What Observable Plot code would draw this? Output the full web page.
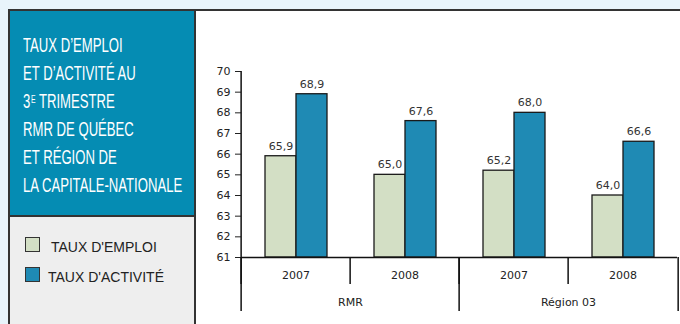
<!DOCTYPE html>
<html><head><meta charset="utf-8">
<script src="https://cdn.jsdelivr.net/npm/d3@7"></script>
<script src="https://cdn.jsdelivr.net/npm/@observablehq/plot@0.6"></script>
<style>
body{margin:0;width:680px;height:324px;background:#e8f4fb;position:relative;overflow:hidden;font-family:"Liberation Sans",Arial,sans-serif}
.abs{position:absolute}
#title{left:10px;top:11px;width:184px;height:204px;background:#058cb3;color:#fff;box-sizing:border-box;padding:20px 0 0 13px;font-family:"Liberation Sans",sans-serif;font-size:21px;line-height:28px;white-space:nowrap}
#title div{transform:scaleX(0.625);transform-origin:0 0}
#title sup{font-size:11px;vertical-align:top;position:relative;top:-2px;margin-left:1px}
#legend{left:10px;top:217px;width:184px;height:107px;background:#eeeeee}
.item{position:absolute;font-size:14px;color:#222;white-space:nowrap}
.sw{position:absolute;width:13px;height:13px;border:1px solid #333}
#chart{left:196px;top:11px;width:484px;height:313px;background:#fff}
</style></head><body>
<div class="abs" style="left:8px;top:9px;width:672px;height:2px;background:#333"></div>
<div class="abs" style="left:8px;top:9px;width:2px;height:315px;background:#333"></div>
<div class="abs" id="title"></div>
<div class="abs" style="left:10px;top:215px;width:184px;height:2px;background:#333"></div>
<div class="abs" id="legend"></div>
<div class="abs" style="left:194px;top:11px;width:2px;height:313px;background:#333"></div>
<div class="abs" id="chart"></div>
<script>
// ---- data ----
const titleLines = ["TAUX D’EMPLOI", "ET D’ACTIVITÉ AU", "3|E| TRIMESTRE", "RMR DE QUÉBEC", "ET RÉGION DE", "LA CAPITALE-NATIONALE"];
const groups = ["RMR", "RMR", "Région 03", "Région 03"];
const years = ["2007", "2008", "2007", "2008"];
const series = ["TAUX D'EMPLOI", "TAUX D'ACTIVITÉ"];
const tauxEmploi = [65.9, 65.0, 65.2, 64.0];
const tauxActivite = [68.9, 67.6, 68.0, 66.6];
const yTicks = [61, 62, 63, 64, 65, 66, 67, 68, 69, 70];
const colors = ["#d3dfc5", "#1f8ab4"];

// ---- title ----
const title = document.getElementById("title");
titleLines.forEach(l => {
  const d = document.createElement("div");
  const parts = l.split("|");
  if (parts.length === 3) { d.innerHTML = parts[0] + "<sup>" + parts[1] + "</sup>" + parts[2]; }
  else d.textContent = l;
  title.appendChild(d);
});

// ---- legend ----
const legend = document.getElementById("legend");
const legendPos = [{sy: 20, tx: 41, ty: 22}, {sy: 50, tx: 38, ty: 52}];
series.forEach((s, i) => {
  const sw = document.createElement("div");
  sw.className = "sw"; sw.style.left = "15px"; sw.style.top = legendPos[i].sy + "px"; sw.style.background = colors[i];
  legend.appendChild(sw);
  const t = document.createElement("div");
  t.className = "item"; t.style.left = legendPos[i].tx + "px"; t.style.top = legendPos[i].ty + "px"; t.textContent = s;
  legend.appendChild(t);
});

// ---- chart ----
const keys = years.map((y, i) => groups[i] + " " + y);
const rows = [];
keys.forEach((k, i) => {
  rows.push({key: k, serie: series[0], value: tauxEmploi[i]});
  rows.push({key: k, serie: series[1], value: tauxActivite[i]});
});
const W = 484, H = 313, ML = 43, MR = 2, MT = 60, MB = 67;
const step = (W - ML - MR) / keys.length;
const PO = 0.746;
const xStep = step / (2 + 2 * PO);
const frameH = H - MT - MB;
const groupStarts = keys.filter((k, i) => i === 0 || groups[i] !== groups[i - 1]);
const groupMid = keys.filter((k, i) => i > 0 && groups[i] === groups[i - 1]);
const fmt = d => d.value.toFixed(1).replace(".", ",");
const sepStyle = {stroke: "#111", strokeWidth: 1.5};

const plot = Plot.plot({
  width: W, height: H, marginLeft: ML, marginRight: MR, marginTop: MT, marginBottom: MB,
  style: {fontFamily: "DejaVu Sans", fontSize: "11px", color: "#222", background: "transparent"},
  fx: {domain: keys, padding: 0, axis: null, label: null},
  x: {domain: series, paddingInner: 0, paddingOuter: PO, axis: null},
  y: {domain: [yTicks[0], yTicks[yTicks.length - 1]], ticks: yTicks, tickSize: 6, tickPadding: 5, label: null, tickFormat: d => d},
  color: {domain: series, range: colors},
  marks: [
    // right end of the category table (placed from the last bar band)
    Plot.ruleX([keys[keys.length - 1]], {fx: d => d, x: () => series[series.length - 1], dx: xStep * (PO + 0.5), insetTop: frameH, insetBottom: -54, ...sepStyle}),
    Plot.barY(rows, {fx: "key", x: "serie", y1: yTicks[0], y2: "value", fill: "serie", stroke: "#1a1a1a", strokeWidth: 1.3}),
    Plot.text(rows, {fx: "key", x: "serie", y: "value", text: fmt, dy: -10, fill: "#333"}),
    Plot.ruleY([yTicks[0]], sepStyle),
    // y axis line
    Plot.ruleX([keys[0]], {fx: d => d, x: null, dx: -step / 2, ...sepStyle}),
    // short separators (years)
    Plot.ruleX(keys, {fx: d => d, x: null, dx: -step / 2, insetTop: frameH, insetBottom: -27, ...sepStyle}),
    // long separators (groups)
    Plot.ruleX(groupStarts, {fx: d => d, x: null, dx: -step / 2, insetTop: frameH, insetBottom: -54, ...sepStyle}),
    Plot.text(keys, {fx: d => d, text: (d, i) => years[i], frameAnchor: "bottom", dy: 21, fill: "#222"}),
    Plot.text(groupMid, {fx: d => d, text: d => groups[keys.indexOf(d)], frameAnchor: "bottom-left", textAnchor: "middle", dy: 48, fill: "#222"})
  ]
});
document.getElementById("chart").appendChild(plot);
</script>
</body></html>
